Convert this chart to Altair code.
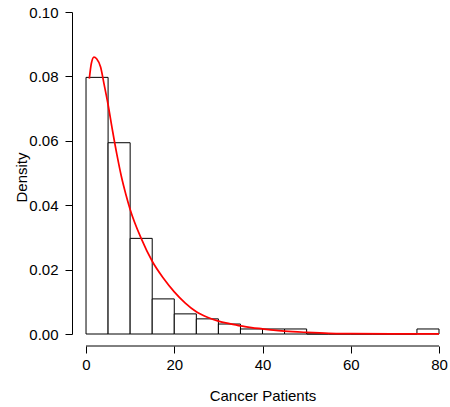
import altair as alt
import pandas as pd

# Histogram bins (width 5) and densities
bin_starts = [0, 5, 10, 15, 20, 25, 30, 35, 40, 45, 50, 55, 60, 65, 70, 75]
bin_ends = [5, 10, 15, 20, 25, 30, 35, 40, 45, 50, 55, 60, 65, 70, 75, 80]
densities = [0.0797, 0.0594, 0.0297, 0.0109, 0.00625, 0.0047, 0.0031, 0.00156,
             0.00156, 0.00156, 0.0, 0.0, 0.0, 0.0, 0.0, 0.00156]

# Fitted density curve
curve_x = [0.75, 1.2, 1.8, 2.4, 3.3, 4.1, 5.0, 6.0, 7.0, 8.0, 9.0, 10.0, 12.5, 15.0,
           17.5, 20.0, 22.5, 25.0, 27.5, 30.0, 32.5, 35.0, 37.5, 40.0, 42.5, 45.0,
           50.0, 55.0, 60.0, 70.0, 80.0]
curve_d = [0.0793, 0.0840, 0.0860, 0.0855, 0.0829, 0.0775, 0.0712, 0.0632, 0.0557,
           0.0490, 0.0435, 0.0387, 0.0297, 0.0226, 0.0174, 0.0131, 0.0096, 0.0069,
           0.0052, 0.0040, 0.0032, 0.0025, 0.0020, 0.0016, 0.0012, 0.0009, 0.0005,
           0.0002, 0.0001, 0.00003, 0.00001]

x_ticks = [0, 20, 40, 60, 80]
y_ticks = [0.0, 0.02, 0.04, 0.06, 0.08, 0.10]

hist = pd.DataFrame({"start": bin_starts, "end": bin_ends, "density": densities})
curve = pd.DataFrame({"x": curve_x, "d": curve_d})
axis_line = pd.DataFrame({"a": [x_ticks[0]], "b": [x_ticks[-1]]})

FONT = "Liberation Sans"
FS = 15

xscale = alt.Scale(domain=[-3.18, 80], nice=False, zero=False)
yscale = alt.Scale(domain=[0, 0.1], nice=False)

xaxis = alt.Axis(title="Cancer Patients", values=x_ticks, domain=False, offset=12,
                 tickSize=7, tickColor="black", labelColor="black", labelFont=FONT,
                 labelFontSize=FS, labelPadding=4, labelFlush=False, grid=False,
                 titleFont=FONT, titleFontSize=FS, titleFontWeight="normal",
                 titleColor="black", titleX=190.5, titleY=49, titleBaseline="middle",
                 titleAlign="center")
yaxis = alt.Axis(title="Density", values=y_ticks, format=".2f", domain=True,
                 domainColor="black", tickSize=7, tickColor="black",
                 labelColor="black", labelFont=FONT, labelFontSize=FS,
                 labelPadding=7, labelFlush=False, grid=False,
                 titleFont=FONT, titleFontSize=FS, titleFontWeight="normal",
                 titleColor="black", titleX=-51, titleY=165, titleBaseline="middle",
                 titleAlign="center", titleAngle=270)

bars = alt.Chart(hist).mark_rect(fill="white", stroke="black", strokeWidth=1).encode(
    x=alt.X("start:Q", scale=xscale, axis=xaxis),
    x2="end:Q",
    y=alt.Y("density:Q", scale=yscale, axis=yaxis),
    y2=alt.datum(0),
)

line = alt.Chart(curve).mark_line(color="red", strokeWidth=1.7, interpolate="monotone").encode(
    x=alt.X("x:Q", scale=xscale),
    y=alt.Y("d:Q", scale=yscale),
)

xline = alt.Chart(axis_line).mark_rule(color="black", strokeWidth=1).encode(
    x=alt.X("a:Q", scale=xscale),
    x2="b:Q",
    y=alt.value(334),
)

chart = alt.layer(bars, line, xline).properties(
    width=367, height=322,
    padding={"left": 72, "top": 12, "right": 11, "bottom": 73},
    autosize="none",
    background="white",
).configure_view(stroke="transparent", strokeWidth=0)

chart.save("out.html", embed_options={"renderer": "svg", "actions": False})
